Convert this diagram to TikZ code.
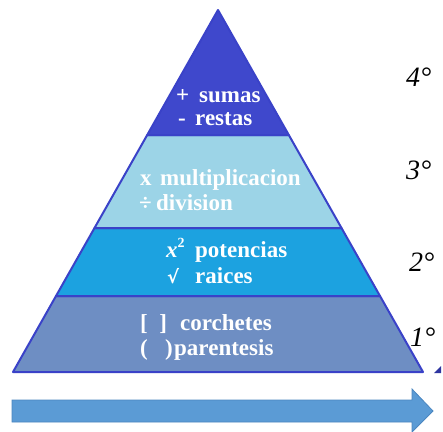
\documentclass[tikz,border=0pt]{standalone}
\usepackage{fontspec}
\setmainfont{Liberation Serif}
\newfontfamily\bandfont{Liberation Serif}
\newfontfamily\symfont{DejaVu Sans}
\definecolor{edge}{HTML}{3A42C8}
\definecolor{topband}{HTML}{3F48CC}
\definecolor{lightband}{HTML}{9CD4E7}
\definecolor{midband}{HTML}{1CA2E0}
\definecolor{lowband}{HTML}{6E8EC3}
\definecolor{arrowfill}{HTML}{5B9BD5}
\definecolor{arrowedge}{HTML}{4A86C0}
\begin{document}
\begin{tikzpicture}[x=1pt,y=-1pt,
  band/.style={draw=edge,line width=2pt,line join=round},
  txt/.style={anchor=base west,inner sep=0pt,text=white,font=\bandfont\bfseries\fontsize{23}{26}\selectfont},
  lvl/.style={anchor=base west,inner sep=0pt,font=\itshape\fontsize{28}{30}\selectfont}]
\useasboundingbox (0,0) rectangle (443,431);
\fill[white] (0,0) rectangle (443,431);
% bands
\path[band,fill=lowband] (56,296) -- (380,296) -- (423,372) -- (13,372) -- cycle;
\path[band,fill=midband] (94.5,228) -- (341.5,228) -- (380,296) -- (56,296) -- cycle;
\path[band,fill=lightband] (147.2,135) -- (288.8,135) -- (341.5,228) -- (94.5,228) -- cycle;
\path[band,fill=topband] (218,10) -- (288.8,135) -- (147.2,135) -- cycle;
% texts top
\node[txt] (s1) at (176,102) {+};
\node[txt] (s2) at (199,102) {sumas};
\node[txt] (r1) at (178,125) {-};
\node[txt] (r2) at (195,125) {restas};
% light
\node[txt] (m1) at (140,185) {x};
\node[txt] (m2) at (160,185) {multiplicacion};
\node[txt] (d1) at (139,210) {÷};
\node[txt] (d2) at (156,210) {division};
% mid
\node[txt] (p1) at (166,257) {\textit{x}\raisebox{0.42em}{\fontsize{14}{15}\selectfont 2}};
\node[txt] (p2) at (195,257) {potencias};
\node[txt] (q1) at (167,283) {\symfont\bfseries\fontsize{18}{20}\selectfont √};
\node[txt] (q2) at (195,283) {raices};
% low
\node[txt] (c1) at (140,330) {[\hspace{0.5em}]};
\node[txt] (c2) at (180,330) {corchetes};
\node[txt] (e1) at (140,355) {(\hspace{0.75em})};
\node[txt] (e2) at (174,355) {parentesis};
% level labels
\node[lvl] (l4) at (406,86) {4°};
\node[lvl] (l3) at (406,179) {3°};
\node[lvl] (l2) at (409,271) {2°};
\node[lvl] (l1) at (410,346) {1°};
% small mark
\fill[edge!80!black] (434,373) -- (441,366) -- (441,373) -- cycle;
% arrow
\draw[fill=arrowfill,draw=arrowedge,line width=0.8pt,line join=miter]
  (12,400) -- (412,400) -- (412,389) -- (433,411) -- (412,432) -- (412,422) -- (12,422) -- cycle;
\end{tikzpicture}
\end{document}
